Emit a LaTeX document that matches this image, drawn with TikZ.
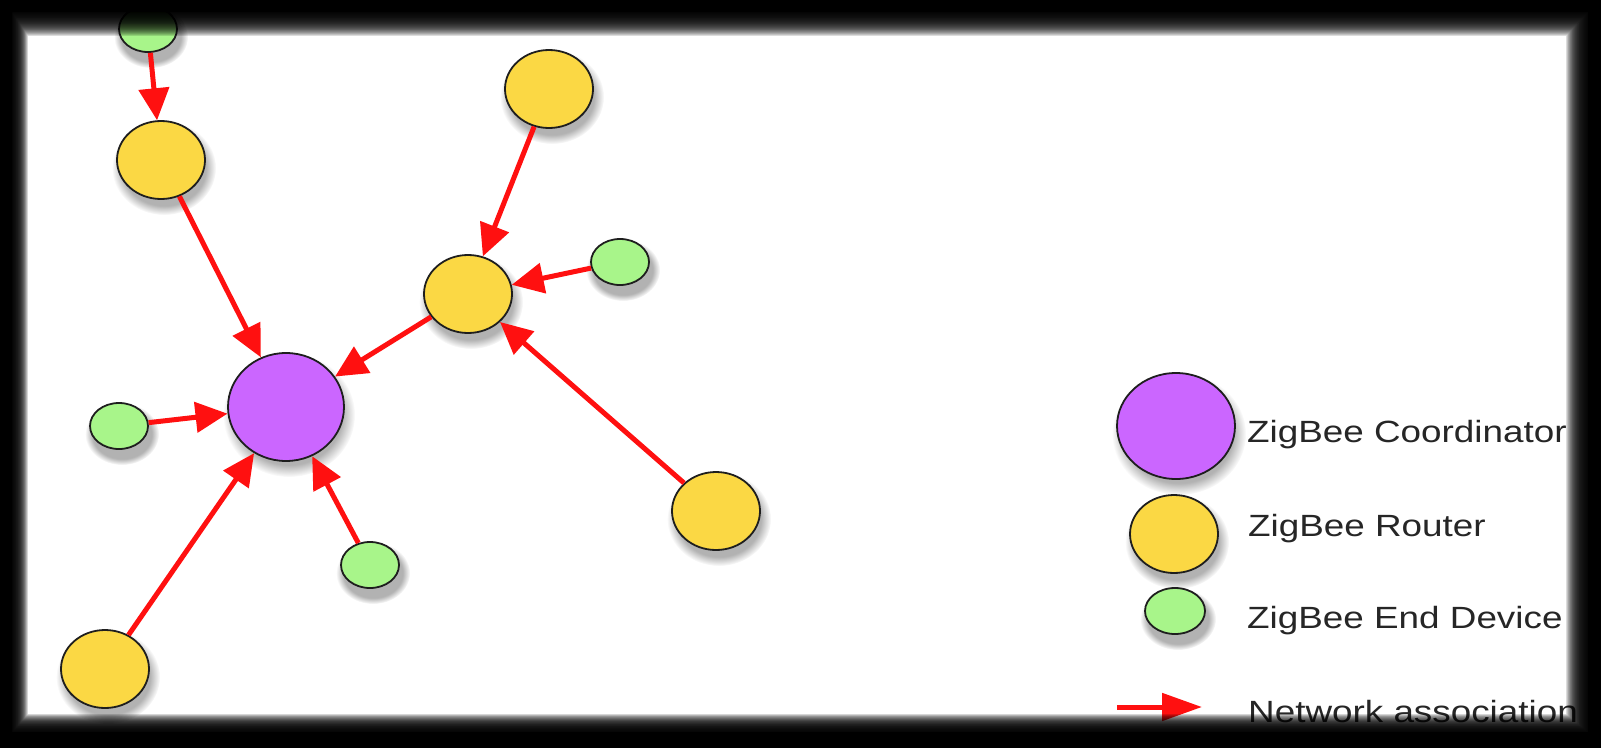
\documentclass[tikz,border=0pt]{standalone}
\usepackage{fontspec}
\setmainfont{Liberation Sans}
\usetikzlibrary{shapes.geometric,arrows.meta,fadings}
\definecolor{zpurple}{RGB}{203,102,255}
\definecolor{zyellow}{RGB}{251,216,68}
\definecolor{zgreen}{RGB}{168,245,138}
\definecolor{zred}{RGB}{255,16,16}
\definecolor{zoutline}{RGB}{30,30,30}
\tikzset{
  dev/.style={ellipse, draw=zoutline, line width=1.8pt, inner sep=0pt},
  coordn/.style={dev, fill=zpurple, minimum width=116pt, minimum height=108pt},
  router/.style={dev, fill=zyellow, minimum width=88pt, minimum height=78pt},
  enddev/.style={dev, fill=zgreen, minimum width=58pt, minimum height=46pt},
  arr/.style={draw=zred, line width=5pt, -{Triangle[length=32pt,width=30pt]}},
  legtext/.style={anchor=base west, inner sep=0pt, text=black!85,
    font=\fontsize{30.7}{36}\selectfont},
  softshadow/.style={black, opacity=0.3, path fading=circle with fuzzy edge 20 percent},
}
\begin{document}
\begin{tikzpicture}[x=1pt,y=-1pt]
\useasboundingbox (0,0) rectangle (1601,747);
\fill[white] (0,0) rectangle (1601,747);

% soft shadows under the discs
\foreach \x/\y/\a/\b in {148/29/37/31, 161/160/52/47, 286/407/66/62, 549/89/52/47,
  468/294/52/47, 620/262/37/31, 716/511/52/47, 119/426/37/31, 370/565/37/31,
  105/669/52/47, 1176/426/67/61, 1174/534/52/47, 1175/611/38/31}
  \fill[softshadow] (\x+3,\y+8) ellipse [x radius=\a, y radius=\b];

% network
\node[enddev] (gT)  at (148,29)  {};
\node[router] (rTL) at (161,160) {};
\node[coordn] (co)  at (286,407) {};
\node[router] (rTM) at (549,89)  {};
\node[router] (rM)  at (468,294) {};
\node[enddev] (gR)  at (620,262) {};
\node[router] (rR)  at (716,511) {};
\node[enddev] (gL)  at (119,426) {};
\node[enddev] (gB)  at (370,565) {};
\node[router] (rBL) at (105,669) {};

\draw[arr] (gT)  -- (rTL);
\draw[arr] (rTL) -- (co);
\draw[arr] (rTM) -- (rM);
\draw[arr] (gR)  -- (rM);
\draw[arr] (rR)  -- (rM);
\draw[arr] (rM)  -- (co);
\draw[arr] (gL)  -- (co);
\draw[arr] (gB)  -- (co);
\draw[arr] (rBL) -- (co);

% legend
\node[coordn, minimum width=118pt, minimum height=106pt] (lc) at (1176,426) {};
\node[router] (lr) at (1174,534) {};
\node[enddev, minimum width=60pt] (lg) at (1175,611) {};
\coordinate (la1) at (1117,707);
\coordinate (la2) at (1202,707);
\draw[arr, -{Triangle[length=40pt,width=27pt]}] (la1) -- (la2);

\node[legtext] (tc) at (1247,442) {\scalebox{1.2}[1]{ZigBee Coordinator}};
\node[legtext] (tr) at (1248,536) {\scalebox{1.2}[1]{ZigBee Router}};
\node[legtext] (te) at (1247,628) {\scalebox{1.2}[1]{ZigBee End Device}};
\node[legtext] (tn) at (1248,722) {\scalebox{1.2}[1]{Network association}};

% blurred black frame
\fill[black, even odd rule] (-1,-1) rectangle (1602,748) (12,12) rectangle (1588,732);
\foreach \t in {0,0.04,...,1.0}
  \fill[black, opacity=0.12, even odd rule] (-1,-1) rectangle (1602,748)
    (12+16*\t,12+24*\t) rectangle (1588-22*\t,732-18*\t);
\end{tikzpicture}
\end{document}
